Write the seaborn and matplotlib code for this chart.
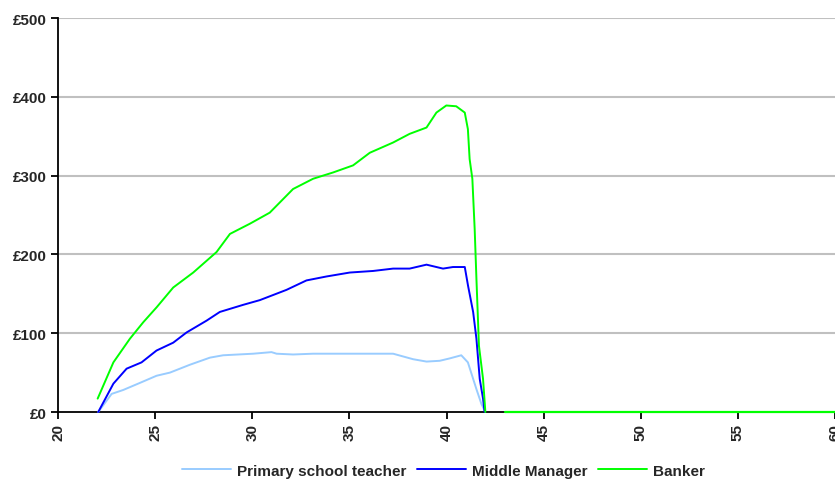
import matplotlib
matplotlib.use("Agg")
import matplotlib.pyplot as plt
import seaborn as sns
import pandas as pd

# values (age, weekly amount in £)
teacher_age = [22.07, 22.76, 23.36, 24.22, 25.07, 25.76, 26.79, 27.82, 28.5, 30.05,
               30.99, 31.25, 32.1, 33.13, 35.0, 37.25, 38.28, 38.97, 39.65, 40.16,
               40.76, 41.1, 41.54, 41.8, 41.96]
teacher_value = [0, 23, 28, 37, 46, 50, 60, 69, 72, 74,
                 76, 74, 73, 74, 74, 74, 67, 64, 65, 68,
                 72, 63, 29, 10, 2]

manager_age = [22.07, 22.85, 23.53, 24.3, 25.07, 25.93, 26.62, 27.65, 28.33, 29.53,
               30.39, 31.76, 32.79, 33.82, 35.02, 36.22, 37.25, 38.1, 38.97, 39.82,
               40.33, 40.94, 41.11, 41.37, 41.54, 41.71, 41.88, 41.96]
manager_value = [0, 36, 55, 63, 78, 88, 101, 116, 127, 136,
                 142, 155, 167, 172, 177, 179, 182, 182, 187, 182,
                 184, 184, 160, 127, 93, 42, 17, 0]

banker_age = [22.04, 22.85, 23.7, 24.39, 25.08, 25.93, 26.96, 28.16, 28.85, 29.88,
              30.9, 32.1, 33.13, 34.16, 35.19, 36.05, 37.25, 38.1, 38.97, 39.48,
              39.99, 40.5, 40.94, 41.1, 41.19, 41.33, 41.45, 41.54, 41.67, 41.88, 42.0]
banker_value = [17, 63, 93, 114, 133, 158, 177, 203, 226, 239,
                253, 283, 296, 304, 313, 329, 342, 353, 361, 380,
                389, 388, 380, 359, 321, 296, 232, 169, 84, 42, 0]

# flat zero stretch after retirement
tail_age = [43, 60]
tail_value = [0, 0]

series_names = ["Primary school teacher", "Middle Manager", "Banker"]
series_colors = ["#99ccff", "#0000ff", "#00ff00"]
y_ticks = [0, 100, 200, 300, 400, 500]
x_ticks = [20, 25, 30, 35, 40, 45, 50, 55, 60]

frames = []
for name, ages, vals in zip(series_names,
                            [teacher_age, manager_age, banker_age],
                            [teacher_value, manager_value, banker_value]):
    frames.append(pd.DataFrame({"age": ages, "value": vals, "job": name}))
df = pd.concat(frames, ignore_index=True)
tail = pd.DataFrame({"age": tail_age, "value": tail_value})

sns.set_style("white")
plt.rcParams["font.family"] = ["Liberation Sans", "DejaVu Sans"]

fig = plt.figure(figsize=(8.35, 4.89), dpi=100)
ax = fig.add_axes([0.0695, 0.1554, 0.9305, 0.8057])

for v in y_ticks[1:]:
    ax.axhline(v, color="#c0c0c0", lw=1.5, zorder=0)

sns.lineplot(data=df, x="age", y="value", hue="job", hue_order=series_names,
             palette=series_colors, estimator=None, sort=False, lw=1.4, ax=ax,
             zorder=4, clip_on=False)
sns.lineplot(data=tail, x="age", y="value", color=series_colors[2], lw=1.6,
             legend=False, ax=ax, clip_on=False, zorder=5)

ax.set_xlim(20, 60)
ax.set_ylim(0, 500)
ax.set_xticks(x_ticks)
ax.set_yticks(y_ticks)
ax.set_yticklabels([f"£{v}" for v in y_ticks], fontweight="bold", fontsize=11)
ax.set_xticklabels([str(v) for v in x_ticks], rotation=90, fontweight="bold", fontsize=11)
ax.set_xlabel("")
ax.set_ylabel("")

for side in ["top", "right"]:
    ax.spines[side].set_visible(False)
for side in ["left", "bottom"]:
    ax.spines[side].set_color("black")
    ax.spines[side].set_linewidth(1.3)
    ax.spines[side].set_zorder(3)
ax.tick_params(axis="both", direction="out", length=5, width=1.3, color="black", pad=3)
ax.tick_params(axis="both", which="both", bottom=True, left=True)

handles, labels = ax.get_legend_handles_labels()
ax.get_legend().remove()
fig.legend(handles, labels, loc="lower center", bbox_to_anchor=(0.531, -0.007),
           ncol=3, frameon=False, prop={"weight": "bold", "size": 11},
           handlelength=3.2, columnspacing=0.7, handletextpad=0.4)

fig.savefig("out.png", dpi=100)
